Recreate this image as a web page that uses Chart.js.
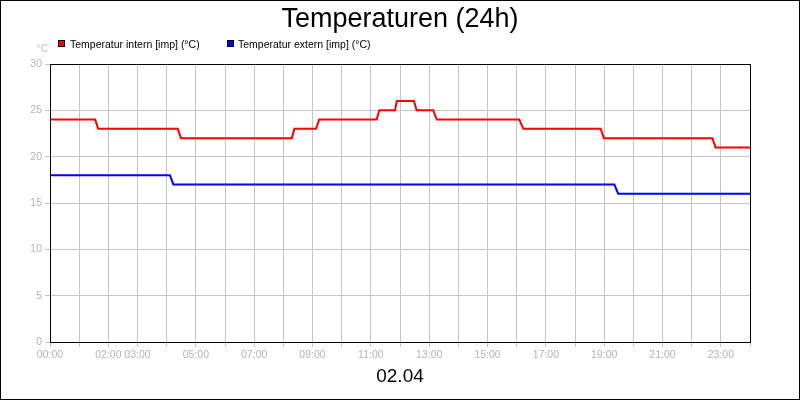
<!DOCTYPE html>
<html>
<head>
<meta charset="utf-8">
<script src="https://cdn.jsdelivr.net/npm/chart.js@4.4.0/dist/chart.umd.min.js"></script>
<style>
  html, body { margin: 0; padding: 0; background: #fff; }
  canvas { display: block; }
</style>
</head>
<body>
<canvas id="c" width="800" height="400"></canvas>
<script>
// ---- data ----
const chartTitle = 'Temperaturen (24h)';
const dateLabel = '02.04';
const unitLabel = '°C';
const seriesNames = ['Temperatur intern [imp] (°C)', 'Temperatur extern [imp] (°C)'];
const seriesColors = ['#ff0000', '#0000ff'];

// hours (0..24) for x-axis tick labels; '' = not labelled
const hourLabels = ['00:00', '', '02:00', '03:00', '', '05:00', '', '07:00', '', '09:00', '', '11:00', '',
  '13:00', '', '15:00', '', '17:00', '', '19:00', '', '21:00', '', '23:00', ''];
const yTicks = [0, 5, 10, 15, 20, 25, 30];

const internTimes  = [0, 1.55, 1.65, 4.38, 4.49, 8.29, 8.38, 9.12, 9.23, 11.2, 11.29, 11.83, 11.89, 12.48, 12.57, 13.14, 13.26, 16.09, 16.23, 18.88, 18.99, 22.71, 22.82, 24];
const internValues = [24, 24, 23, 23, 22, 22, 23, 23, 24, 24, 25, 25, 26, 26, 25, 25, 24, 24, 23, 23, 22, 22, 21, 21];

const externTimes  = [0, 4.11, 4.23, 19.35, 19.48, 24];
const externValues = [18, 18, 17, 17, 16, 16];

// ---- chart ----
const FONT = "'Liberation Sans', Arial, sans-serif";
const GRID = '#c4c4c4';
const TICKTXT = '#b4b4b4';

function pts(t, v) { return t.map((x, i) => ({ x: x, y: v[i] })); }

const decorPlugin = {
  id: 'decor',
  beforeDraw(chart) {
    const ctx = chart.ctx;
    ctx.save();
    ctx.fillStyle = '#ffffff';
    ctx.fillRect(0, 0, chart.width, chart.height);
    ctx.restore();
  },
  afterDraw(chart) {
    const ctx = chart.ctx;
    const a = chart.chartArea;
    ctx.save();
    // plot frame
    ctx.strokeStyle = '#000';
    ctx.lineWidth = 1;
    ctx.strokeRect(Math.round(a.left) + 0.5, Math.round(a.top) + 0.5, Math.round(a.right - a.left), Math.round(a.bottom - a.top));
    // outer frame
    ctx.strokeRect(0.5, 0.5, chart.width - 1, chart.height - 1);
    // title
    ctx.fillStyle = '#000';
    ctx.font = '27px ' + FONT;
    ctx.textAlign = 'center';
    ctx.textBaseline = 'alphabetic';
    ctx.fillText(chartTitle, 400, 27);
    // unit
    ctx.fillStyle = '#c4c4c4';
    ctx.font = '10.5px ' + FONT;
    ctx.textAlign = 'right';
    ctx.fillText(unitLabel, 48, 52);
    // legend
    const boxX = [58, 227];
    const textX = [70, 238];
    ctx.textAlign = 'left';
    chart.data.datasets.forEach((ds, i) => {
      ctx.fillStyle = ds.borderColor;
      ctx.fillRect(boxX[i], 40, 7, 7);
      ctx.strokeStyle = '#000';
      ctx.strokeRect(boxX[i] + 0.5, 40.5, 6, 6);
      ctx.fillStyle = '#000';
      ctx.fillText(ds.label, textX[i], 48);
    });
    ctx.restore();
  }
};

new Chart(document.getElementById('c'), {
  type: 'line',
  data: {
    datasets: [
      { label: seriesNames[0], data: pts(internTimes, internValues), borderColor: seriesColors[0], backgroundColor: seriesColors[0], borderWidth: 2, pointRadius: 0, tension: 0, fill: false },
      { label: seriesNames[1], data: pts(externTimes, externValues), borderColor: seriesColors[1], backgroundColor: seriesColors[1], borderWidth: 2, pointRadius: 0, tension: 0, fill: false }
    ]
  },
  options: {
    responsive: false,
    animation: false,
    devicePixelRatio: 1,
    layout: { padding: { top: 64, right: 50, left: 0, bottom: 0 } },
    plugins: {
      legend: { display: false },
      title: { display: false },
      tooltip: { enabled: false }
    },
    scales: {
      x: {
        type: 'linear',
        min: 0,
        max: 24,
        afterFit(scale) { scale.height = 58; },
        afterBuildTicks(scale) { scale.ticks = hourLabels.map((_, i) => ({ value: i })); },
        ticks: {
          stepSize: 1,
          autoSkip: false,
          maxRotation: 0,
          padding: 2,
          color: TICKTXT,
          font: { family: FONT, size: 10.5 },
          callback: (v) => hourLabels[v]
        },
        grid: { color: GRID, lineWidth: 1, tickLength: 5, tickColor: GRID },
        border: { display: true, color: '#000', width: 1 },
        title: {
          display: true,
          text: dateLabel,
          color: '#000',
          font: { family: FONT, size: 19 },
          padding: { top: 0, bottom: 12 }
        }
      },
      y: {
        min: 0,
        max: 30,
        afterFit(scale) { scale.width = 50; },
        afterBuildTicks(scale) { scale.ticks = yTicks.map(v => ({ value: v })); },
        ticks: {
          stepSize: 5,
          padding: 3,
          color: TICKTXT,
          font: { family: FONT, size: 10.5 }
        },
        grid: { color: GRID, lineWidth: 1, tickLength: 5, tickColor: GRID },
        border: { display: true, color: '#000', width: 1 }
      }
    }
  },
  plugins: [decorPlugin]
});
</script>
</body>
</html>
